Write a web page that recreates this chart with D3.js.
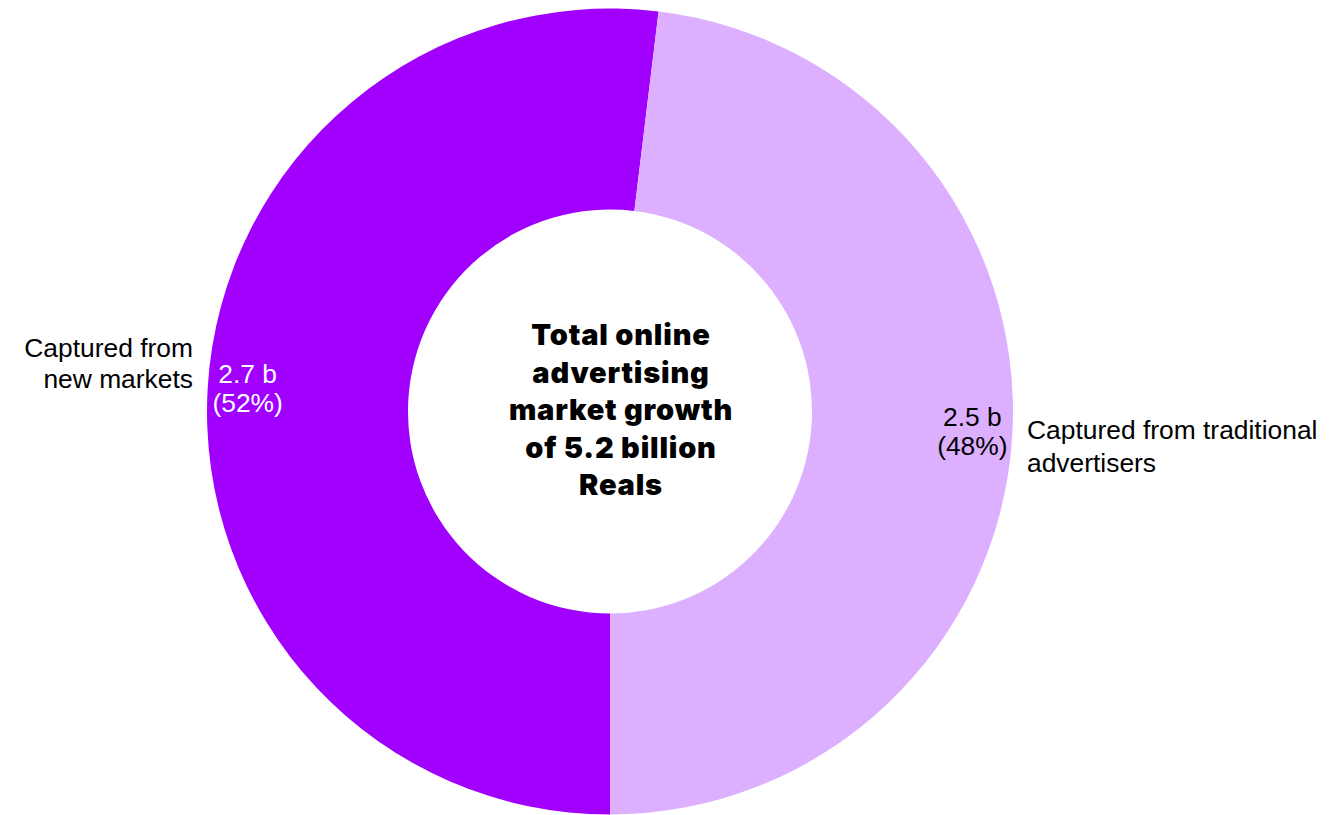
<!DOCTYPE html>
<html>
<head>
<meta charset="utf-8">
<script src="https://cdn.jsdelivr.net/npm/d3@7"></script>
<style>
  html, body { margin: 0; padding: 0; background: #ffffff; }
  svg { display: block; }
</style>
</head>
<body>
<svg id="chart" width="1344" height="815"></svg>
<script>
// Growth split, in billions of Reals
const categories = ["Captured from new markets", "Captured from traditional advertisers"];
const categoryLines = [["Captured from", "new markets"], ["Captured from traditional", "advertisers"]];
const values = [2.7, 2.5];
const shares = [52, 48];
const colors = ["#A100FF", "#DCAFFF"];
const valueTextColors = ["#ffffff", "#000000"];
const titleLines = ["Total online", "advertising", "market growth", "of 5.2 billion", "Reals"];

const W = 1344, H = 815;
const cx = 610, cy = 411.5;
const outerR = 403, innerR = 202;
const labelFont = "'Liberation Sans', Arial, sans-serif";
const labelSize = 26.4;

const svg = d3.select("#chart");
const g = svg.append("g").attr("transform", `translate(${cx},${cy})`);

const pie = d3.pie().sort(null).value(d => d)
  .startAngle(Math.PI).endAngle(Math.PI * 3);
const arcs = pie(values);

const arc = d3.arc().innerRadius(innerR).outerRadius(outerR);
const labelArc = d3.arc().innerRadius(363).outerRadius(363);

g.selectAll("path.slice")
  .data(arcs)
  .enter().append("path")
  .attr("class", "slice")
  .attr("d", arc)
  .attr("fill", (d, i) => colors[i]);

// value + share labels inside the ring
arcs.forEach((d, i) => {
  const [x, y] = labelArc.centroid(d);
  const t = g.append("text")
    .attr("text-anchor", "middle")
    .attr("font-family", labelFont)
    .attr("font-size", labelSize)
    .attr("fill", valueTextColors[i]);
  t.append("tspan").attr("x", x).attr("y", y - 7).text(d3.format(".1f")(values[i]) + " b");
  t.append("tspan").attr("x", x).attr("y", y + 22).text(`(${shares[i]}%)`);
});

// category labels outside the ring
const catLayout = [
  { side: -1, dy: [-55, -24] },
  { side: 1, dy: [27, 60] }
];
arcs.forEach((d, i) => {
  const lay = catLayout[i];
  const x = lay.side * (outerR + 14);
  const t = g.append("text")
    .attr("text-anchor", lay.side < 0 ? "end" : "start")
    .attr("font-family", labelFont)
    .attr("font-size", labelSize)
    .attr("fill", "#000000");
  categoryLines[i].forEach((line, k) => {
    t.append("tspan").attr("x", x).attr("y", lay.dy[k]).text(line);
  });
});

// centre title
const title = g.append("text")
  .attr("text-anchor", "middle")
  .attr("font-family", "Inter, Roboto, sans-serif")
  .attr("font-weight", 900)
  .attr("font-size", 29)
  .attr("letter-spacing", "0.8px")
  .attr("fill", "#000000");
titleLines.forEach((line, k) => {
  title.append("tspan").attr("x", 11).attr("y", -66.5 + k * 37.5).text(line);
});
</script>
</body>
</html>
